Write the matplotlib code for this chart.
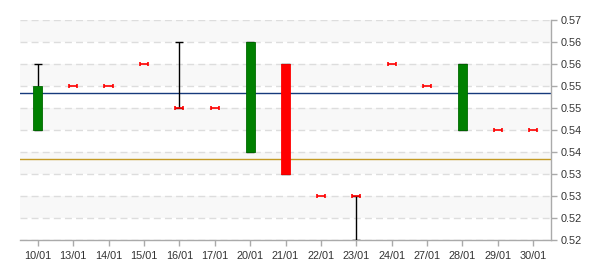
import matplotlib
matplotlib.use("Agg")
import matplotlib.pyplot as plt
import numpy as np

plt.rcParams['font.family'] = ['Liberation Sans', 'DejaVu Sans']

dates = ["10/01", "13/01", "14/01", "15/01", "16/01", "17/01", "20/01", "21/01",
         "22/01", "23/01", "24/01", "27/01", "28/01", "29/01", "30/01"]
opens = [0.545, 0.555, 0.555, 0.560, 0.550, 0.550, 0.540, 0.560,
         0.530, 0.530, 0.560, 0.555, 0.545, 0.545, 0.545]
closes = [0.555, 0.555, 0.555, 0.560, 0.550, 0.550, 0.565, 0.535,
          0.530, 0.530, 0.560, 0.555, 0.560, 0.545, 0.545]
highs = [0.560, 0.555, 0.555, 0.560, 0.565, 0.550, 0.565, 0.560,
         0.530, 0.530, 0.560, 0.555, 0.560, 0.545, 0.545]
lows = [0.545, 0.555, 0.555, 0.560, 0.550, 0.550, 0.540, 0.535,
        0.530, 0.520, 0.560, 0.555, 0.545, 0.545, 0.545]

upper_line = 0.5533
lower_line = 0.5383

yticks = [0.52, 0.525, 0.53, 0.535, 0.54, 0.545, 0.55, 0.555, 0.56, 0.565, 0.57]
ylabels = ["0.52", "0.52", "0.53", "0.53", "0.54", "0.54", "0.55", "0.55", "0.56", "0.56", "0.57"]

fig = plt.figure(figsize=(6, 2.7), dpi=100)
ax = fig.add_axes([20 / 600, 1 - 240 / 270, 531 / 600, 220 / 270])

x = np.arange(len(dates))

# alternating bands
for i in range(0, len(yticks) - 1):
    if i % 2 == 1:
        ax.axhspan(yticks[i], yticks[i + 1], color='#f8f8f8', zorder=0, lw=0)
for t in yticks:
    ax.axhline(t, color='#dddddd', lw=1, ls=(0, (5, 3)), zorder=1)

ax.axhline(upper_line, color='#163a7c', lw=1, zorder=2)
ax.axhline(lower_line, color='#c39a24', lw=1, zorder=2)

cap_w = 0.115
body_w = 0.254
for i in x:
    o, c, h, l = opens[i], closes[i], highs[i], lows[i]
    if h > l:
        ax.vlines(i, l, h, color='black', lw=1, zorder=3)
        ax.hlines([l, h], i - cap_w, i + cap_w, color='black', lw=1, zorder=3)
    if o == c:
        ax.errorbar(i, o, xerr=cap_w, fmt='none', ecolor='red', elinewidth=1.2,
                    capsize=1.5, capthick=1.2, zorder=5)
    else:
        col = '#008000' if c > o else '#ff0000'
        edge = '#006a00' if c > o else '#ff0000'
        ax.bar(i, abs(c - o), bottom=min(o, c), width=body_w, color=col,
               edgecolor=edge, lw=0.6, zorder=4)

ax.set_xlim(-0.5, len(dates) - 0.5)
ax.set_ylim(0.52, 0.57)
ax.set_xticks(x)
ax.set_xticklabels(dates)
ax.set_yticks(yticks)
ax.set_yticklabels(ylabels)
ax.yaxis.tick_right()

for s in ['top', 'left']:
    ax.spines[s].set_visible(False)
for s in ['right', 'bottom']:
    ax.spines[s].set_color('#aaaaaa')
    ax.spines[s].set_linewidth(1)
ax.tick_params(axis='both', colors='#aaaaaa', length=4, width=1, labelsize=7.8,
               labelcolor='#333333')
ax.tick_params(axis='x', pad=4)
ax.tick_params(axis='y', pad=3)

fig.savefig("out.png", dpi=100)
